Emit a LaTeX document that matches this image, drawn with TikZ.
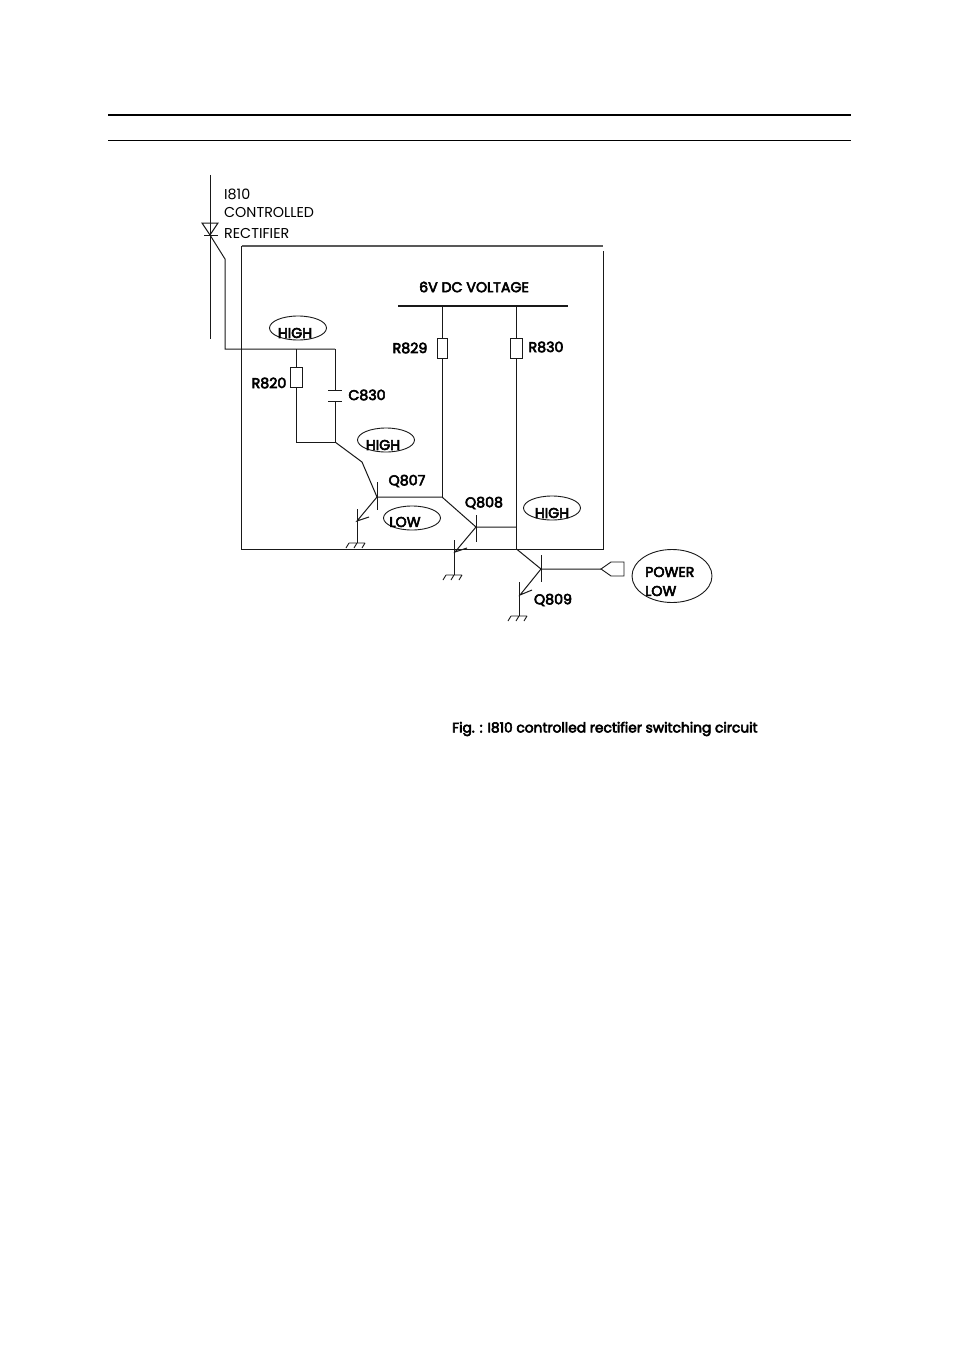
\documentclass[tikz,border=0pt]{standalone}
\usepackage{fontspec}
\usetikzlibrary{shapes.geometric}
\setmainfont{Poppins}
\newfontfamily\boldish[FakeBold=4]{Poppins}
\begin{document}
\begin{tikzpicture}[x=1pt,y=-1pt,
  wire/.style={draw=black!90,line width=1pt,line join=miter},
  part/.style={draw=black!90,line width=0.9pt,fill=white,rectangle,minimum width=#1,minimum height=20pt,inner sep=0pt},
  lab/.style={inner sep=0pt,font=\boldish\fontsize{14.2}{16}\selectfont},
  caplab/.style={inner sep=0pt,anchor=west,font=\boldish\fontsize{13.8}{16}\selectfont},
  thinlab/.style={inner sep=0pt,anchor=west,font=\fontsize{14.3}{16}\selectfont},
  oval/.style={draw=black!90,line width=0.9pt,ellipse,inner sep=0pt,minimum width=#1},
  oval/.default=57pt]
\useasboundingbox (0,0) rectangle (954,1351);
\path[fill=white] (0,0) rectangle (954,1351);
% page rules
\coordinate (r1a) at (108,115); \coordinate (r1b) at (851,115);
\coordinate (r2a) at (108,140); \coordinate (r2b) at (851,140);
\draw[line width=1.6pt] (r1a)--(r1b);
\draw[line width=0.9pt] (r2a)--(r2b);
% frame
\coordinate (f1) at (241.5,246); \coordinate (f2) at (603,246);
\coordinate (f3) at (603,251); \coordinate (f4) at (603,549); \coordinate (f5) at (241.5,549);
\draw[draw=black!65,line width=1.4pt] (f1)--(f2);
\draw[wire] (f1)--(f5)--(f4)--(f3);
% thyristor
\coordinate (a1) at (210,175); \coordinate (a2) at (210,339);
\coordinate (t1) at (202,223); \coordinate (t2) at (218,223); \coordinate (t3) at (210,235);
\coordinate (b1) at (204,235); \coordinate (b2) at (218,235);
\coordinate (g1) at (225,259); \coordinate (g2) at (225,349);
\coordinate (j1) at (296,349); \coordinate (j2) at (335,349);
\draw[wire] (a1)--(a2);
\draw[wire] (t1)--(t2)--(t3)--cycle;
\draw[wire] (b1)--(b2);
\draw[wire] (t3)--(g1)--(g2)--(j1)--(j2);
% R820, C830
\node[part=12pt] (R820) at (296,377) {};
\coordinate (j3) at (296,442); \coordinate (j4) at (335,442);
\coordinate (c1) at (335,390); \coordinate (c2) at (335,401);
\coordinate (c1a) at (328,390); \coordinate (c1b) at (342,390);
\coordinate (c2a) at (328,401); \coordinate (c2b) at (342,401);
\draw[wire] (j1)--(R820.north);
\draw[wire] (R820.south)--(j3)--(j4);
\draw[wire] (j2)--(c1); \draw[wire] (c2)--(j4);
\draw[wire] (c1a)--(c1b); \draw[wire] (c2a)--(c2b);
\coordinate (k1) at (362,462);
\coordinate (q7b) at (377,497);
\draw[wire] (j4)--(k1)--(q7b);
% bus
\coordinate (bus1) at (398,306); \coordinate (bus2) at (568,306);
\draw[line width=2.4pt,black!90] (bus1)--(bus2);
\coordinate (s1) at (442,306); \coordinate (s2) at (516.5,306);
\node[part=10pt] (R829) at (442,348) {};
\node[part=12pt] (R830) at (516.5,348) {};
\coordinate (q7c) at (442,497);
\coordinate (q8b) at (476,527);
\coordinate (q8c) at (516.5,527);
\coordinate (q9j) at (516.5,549);
\coordinate (q9b) at (541,569);
\draw[wire] (s1)--(R829.north); \draw[wire] (R829.south)--(q7c);
\draw[wire] (s2)--(R830.north); \draw[wire] (R830.south)--(q9j);
% Q807
\coordinate (q7t) at (377,482); \coordinate (q7d) at (377,510);
\coordinate (q7e) at (357,521); \coordinate (q7f) at (369,517);
\coordinate (q7g) at (357,509); \coordinate (q7h) at (357,543);
\draw[wire] (q7t)--(q7d);
\draw[wire] (q7b)--(q7c)--(q8b)--(q8c);
\draw[wire] (q7b)--(q7e)--(q7f);
\draw[wire] (q7g)--(q7h);
\coordinate (g7a) at (349,543); \coordinate (g7b) at (365,543);
\draw[wire,line width=0.9pt] (g7a)--(g7b) (g7a)--++(-3,5) (357,543)--++(-3,5) (g7b)--++(-3,5);
% Q808
\coordinate (q8t) at (476,515); \coordinate (q8d) at (476,542);
\coordinate (q8e) at (455,552); \coordinate (q8f) at (467,548);
\coordinate (q8g) at (454,540); \coordinate (q8h) at (454,575);
\draw[wire] (q8t)--(q8d);
\draw[wire] (q8b)--(q8e)--(q8f);
\draw[wire] (q8g)--(q8h);
\coordinate (g8a) at (446,575); \coordinate (g8b) at (462,575);
\draw[wire,line width=0.9pt] (g8a)--(g8b) (g8a)--++(-3,5) (454,575)--++(-3,5) (g8b)--++(-3,5);
% Q809
\coordinate (q9t) at (541,555); \coordinate (q9d) at (541,582);
\coordinate (q9e) at (520,595); \coordinate (q9f) at (532,590);
\coordinate (q9g) at (519,582); \coordinate (q9h) at (519,616);
\coordinate (con) at (601,569);
\draw[wire] (q9j)--(q9b)--(con);
\draw[wire] (q9t)--(q9d);
\draw[wire] (q9b)--(q9e)--(q9f);
\draw[wire] (q9g)--(q9h);
\coordinate (g9a) at (511,616); \coordinate (g9b) at (527,616);
\draw[wire,line width=0.9pt] (g9a)--(g9b) (g9a)--++(-3,5) (519,616)--++(-3,5) (g9b)--++(-3,5);
% connector
\coordinate (p1) at (611,562); \coordinate (p2) at (624,562);
\coordinate (p3) at (624,576); \coordinate (p4) at (611,576);
\draw[wire,line width=0.9pt] (con)--(p1)--(p2)--(p3)--(p4)--cycle;
% ovals
\node[oval,minimum height=24pt] (o1) at (298,328) {};
\node[oval,minimum height=24pt] (o2) at (386,440) {};
\node[oval,minimum height=24pt] (o3) at (412,518) {};
\node[oval,minimum height=24pt] (o4) at (552,508) {};
\node[oval=80pt,minimum height=53pt] (o5) at (672,576) {};
% labels
\node[thinlab] (l1) at (224,194) {I810};
\node[thinlab] (l2) at (224,213) {CONTROLLED};
\node[thinlab] (l3) at (224,233) {RECTIFIER};
\node[lab] (h1) at (295,333) {HIGH};
\node[lab] (h2) at (383,445) {HIGH};
\node[lab] (h3) at (552,513) {HIGH};
\node[lab] (lo) at (405,522) {LOW};
\node[lab] (v6) at (474,287) {6V DC VOLTAGE};
\node[lab] (n829) at (410,348) {R829};
\node[lab] (n830) at (546,347) {R830};
\node[lab] (n820) at (269,383) {R820};
\node[lab] (n830c) at (367,395) {C830};
\node[lab] (n7) at (407,481) {Q807};
\node[lab] (n8) at (484,503) {Q808};
\node[lab] (n9) at (553,600) {Q809};
\node[lab,anchor=west] (pw) at (645,572) {POWER};
\node[lab,anchor=west] (pl) at (645,591) {LOW};
\node[caplab] (cap) at (452,729) {Fig. : I810 controlled rectifier switching circuit};
\end{tikzpicture}
\end{document}
